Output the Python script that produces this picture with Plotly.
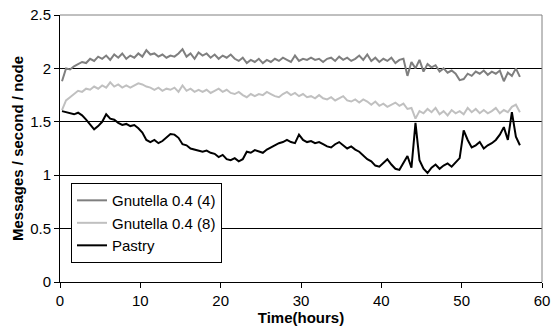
import plotly.graph_objects as go

time_hours = [
    0.25, 0.75, 1.25, 1.75, 2.25, 2.75, 3.25, 3.75, 4.25, 4.75,
    5.25, 5.75, 6.25, 6.75, 7.25, 7.75, 8.25, 8.75, 9.25, 9.75,
    10.25, 10.75, 11.25, 11.75, 12.25, 12.75, 13.25, 13.75, 14.25, 14.75,
    15.25, 15.75, 16.25, 16.75, 17.25, 17.75, 18.25, 18.75, 19.25, 19.75,
    20.25, 20.75, 21.25, 21.75, 22.25, 22.75, 23.25, 23.75, 24.25, 24.75,
    25.25, 25.75, 26.25, 26.75, 27.25, 27.75, 28.25, 28.75, 29.25, 29.75,
    30.25, 30.75, 31.25, 31.75, 32.25, 32.75, 33.25, 33.75, 34.25, 34.75,
    35.25, 35.75, 36.25, 36.75, 37.25, 37.75, 38.25, 38.75, 39.25, 39.75,
    40.25, 40.75, 41.25, 41.75, 42.25, 42.75, 43.25, 43.75, 44.25, 44.75,
    45.25, 45.75, 46.25, 46.75, 47.25, 47.75, 48.25, 48.75, 49.25, 49.75,
    50.25, 50.75, 51.25, 51.75, 52.25, 52.75, 53.25, 53.75, 54.25, 54.75,
    55.25, 55.75, 56.25, 56.75, 57.25,
]

gnutella_4 = [
    1.88, 2.00, 1.99, 2.02, 2.04, 2.06, 2.05, 2.09, 2.07, 2.11,
    2.09, 2.12, 2.08, 2.13, 2.10, 2.14, 2.09, 2.12, 2.10, 2.14,
    2.11, 2.17, 2.13, 2.14, 2.11, 2.13, 2.10, 2.12, 2.11, 2.14,
    2.18, 2.11, 2.14, 2.09, 2.15, 2.12, 2.14, 2.10, 2.13, 2.09,
    2.12, 2.10, 2.13, 2.09, 2.07, 2.10, 2.05, 2.08, 2.06, 2.09,
    2.05, 2.08, 2.06, 2.09, 2.07, 2.10, 2.08, 2.06, 2.12, 2.07,
    2.09, 2.08, 2.10, 2.08, 2.09, 2.06, 2.09, 2.10, 2.07, 2.11,
    2.08, 2.10, 2.07, 2.09, 2.12, 2.08, 2.13, 2.07, 2.10, 2.06,
    2.09, 2.07, 2.10, 2.05, 2.08, 2.09, 1.93, 2.06, 2.00, 2.08,
    1.97, 2.04, 2.01, 2.03, 1.97, 2.00, 1.96, 1.98, 1.95, 1.89,
    1.90, 1.95, 1.93, 1.97, 1.95, 1.98, 1.94, 1.97, 1.95, 1.98,
    1.88, 1.96, 1.93, 2.00, 1.92,
]

gnutella_8 = [
    1.61, 1.70, 1.73, 1.76, 1.79, 1.78, 1.81, 1.80, 1.83, 1.81,
    1.84, 1.82, 1.87, 1.83, 1.85, 1.82, 1.84, 1.82, 1.84, 1.86,
    1.85, 1.83, 1.82, 1.80, 1.82, 1.79, 1.81, 1.80, 1.82, 1.78,
    1.84, 1.79, 1.81, 1.78, 1.80, 1.78, 1.80, 1.77, 1.79, 1.81,
    1.78, 1.80, 1.77, 1.76, 1.78, 1.75, 1.73, 1.76, 1.74, 1.76,
    1.75, 1.78, 1.76, 1.74, 1.73, 1.76, 1.78, 1.75, 1.77, 1.74,
    1.76, 1.73, 1.74, 1.72, 1.75, 1.72, 1.71, 1.73, 1.70, 1.72,
    1.74, 1.70, 1.69, 1.71, 1.68, 1.71, 1.69, 1.66, 1.69, 1.65,
    1.67, 1.64, 1.66, 1.68, 1.65, 1.67, 1.62, 1.63, 1.53, 1.60,
    1.58, 1.62, 1.59, 1.63, 1.57, 1.60, 1.56, 1.61, 1.58, 1.60,
    1.57, 1.63, 1.59, 1.62, 1.58, 1.61, 1.58, 1.60, 1.63, 1.58,
    1.61, 1.59, 1.64, 1.66, 1.59,
]

pastry = [
    1.60, 1.59, 1.58, 1.57, 1.585, 1.56, 1.52, 1.47, 1.43, 1.46,
    1.50, 1.57, 1.53, 1.52, 1.49, 1.47, 1.48, 1.46, 1.47, 1.44,
    1.40, 1.33, 1.31, 1.33, 1.30, 1.32, 1.35, 1.385, 1.38, 1.35,
    1.29, 1.28, 1.25, 1.24, 1.235, 1.22, 1.23, 1.21, 1.20, 1.17,
    1.19, 1.15, 1.14, 1.16, 1.13, 1.15, 1.22, 1.21, 1.235, 1.22,
    1.21, 1.24, 1.26, 1.28, 1.30, 1.31, 1.33, 1.31, 1.30, 1.38,
    1.33, 1.31, 1.32, 1.30, 1.31, 1.29, 1.27, 1.26, 1.29, 1.31,
    1.28, 1.25, 1.27, 1.24, 1.22, 1.18, 1.15, 1.13, 1.09, 1.08,
    1.12, 1.15, 1.10, 1.06, 1.05, 1.12, 1.18, 1.07, 1.49, 1.14,
    1.06, 1.02, 1.07, 1.10, 1.06, 1.09, 1.11, 1.08, 1.12, 1.16,
    1.42, 1.33, 1.26, 1.28, 1.31, 1.25, 1.28, 1.30, 1.33, 1.38,
    1.45, 1.33, 1.59, 1.36, 1.28,
]

series_names = ["Gnutella 0.4 (4)", "Gnutella 0.4 (8)", "Pastry"]
series_values = [gnutella_4, gnutella_8, pastry]
series_colors = ["#7f7f7f", "#c0c0c0", "#000000"]

x_ticks = [0, 10, 20, 30, 40, 50, 60]
y_ticks = [0, 0.5, 1, 1.5, 2, 2.5]
y_tick_text = ["0", "0.5", "1", "1.5", "2", "2.5"]

FONT = "Liberation Sans, Arial, sans-serif"

fig = go.Figure()
for i, (name, vals, col) in enumerate(zip(series_names, series_values, series_colors)):
    fig.add_trace(go.Scatter(
        x=time_hours, y=vals, mode="lines", name=name,
        line=dict(color=col, width=2), legendgroup=f"g{i}",
    ))

fig.update_layout(
    width=559, height=331,
    margin=dict(l=60, r=17, t=15, b=49, autoexpand=False),
    paper_bgcolor="white", plot_bgcolor="white",
    font=dict(family=FONT, size=15, color="black"),
    showlegend=True,
    legend=dict(
        x=0.0228, y=0.3705, xanchor="left", yanchor="top",
        bgcolor="white", bordercolor="black", borderwidth=1,
        font=dict(size=15), tracegroupgap=3, traceorder="normal",
    ),
    xaxis=dict(
        range=[0, 60], tickvals=x_ticks, showgrid=False, automargin=False,
        showline=True, linecolor="black", linewidth=1,
        ticks="outside", ticklen=5, tickcolor="black",
        zeroline=False, tickfont=dict(size=15),
        title=dict(text="<b>Time(hours)</b>", font=dict(size=15), standoff=2),
    ),
    yaxis=dict(
        range=[0, 2.5], tickvals=y_ticks, ticktext=y_tick_text, automargin=False,
        showgrid=True, gridcolor="black", gridwidth=1,
        showline=True, linecolor="black", linewidth=1,
        ticks="outside", ticklen=5, tickcolor="black",
        zeroline=False, tickfont=dict(size=15),
        title=dict(text="<b>Messages / second / node</b>", font=dict(size=15), standoff=2),
    ),
    shapes=[
        dict(type="line", xref="paper", yref="paper", x0=0, x1=1, y0=1, y1=1,
             line=dict(color="#808080", width=1), layer="above"),
        dict(type="line", xref="paper", yref="paper", x0=1, x1=1, y0=0, y1=1,
             line=dict(color="#808080", width=1), layer="above"),
    ],
)

fig.write_html("out.html", config={"displayModeBar": False})

# remove the browser's default page margin so the chart sits at the window origin
with open("out.html", "r", encoding="utf-8") as f:
    html = f.read()
html = html.replace("<body>", '<body style="margin:0;padding:0;overflow:hidden">', 1)
with open("out.html", "w", encoding="utf-8") as f:
    f.write(html)
